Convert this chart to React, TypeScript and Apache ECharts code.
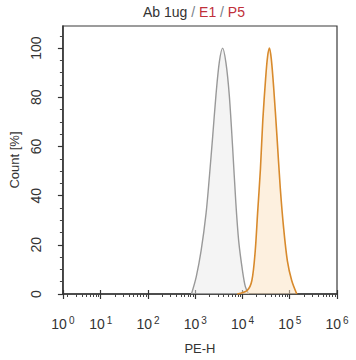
import React, { useEffect, useRef } from "react";
import * as echarts from "echarts";

// PE-H intensity (linear units) and Count [%] for each histogram
const controlIntensity = [832, 1050, 1330, 1700, 2000, 2340, 2750, 3240, 3800, 4470, 5250, 6170, 7240, 8320, 10000, 11500, 13500];
const controlCount = [0, 7, 17.5, 33, 48, 64, 81, 94.4, 100, 94, 81, 60, 37, 21.5, 9.5, 3, 0];

const sampleIntensity = [7760, 12600, 15800, 18600, 20900, 24000, 26900, 30900, 33900, 37200, 40700, 45700, 53700, 63100, 74100, 89100, 110000, 141000];
const sampleCount = [0, 1.5, 5.5, 17.5, 33, 51, 70.6, 87.7, 96.4, 100, 95.6, 84, 64, 43, 27, 13.5, 5.5, 0];

// axis ticks (log10 exponents); first decade label sits at the clipped axis start
const xMinLog = 0.2;
const xMaxLog = 6;
const xMajorTicks = [0.2, 1, 2, 3, 4, 5, 6];
const xMajorLabels = ["0", "1", "2", "3", "4", "5", "6"];
const yMajorTicks = [0, 20, 40, 60, 80, 100];
const yMinorTicks = [5, 10, 15, 25, 30, 35, 45, 50, 55, 65, 70, 75, 85, 90, 95, 105];
const yMax = 109;

const FONT = "'Liberation Sans', Arial, sans-serif";

export default function App() {
  const ref = useRef<HTMLDivElement>(null);
  useEffect(() => {
    if (!ref.current) return;
    const chart = echarts.init(ref.current, undefined, { renderer: "svg" });

    const xMinor: number[] = [];
    for (let d = 0; d < 6; d++) {
      for (let k = 2; k <= 9; k++) {
        const v = Math.log10(k * Math.pow(10, d));
        if (v > xMinLog) xMinor.push(v);
      }
    }

    const toData = (xs: number[], ys: number[]) => xs.map((x, i) => [Math.log10(x), ys[i]]);

    const baseX = {
      type: "value",
      min: xMinLog,
      max: xMaxLog,
      position: "bottom",
      splitLine: { show: false },
    };
    const baseY = {
      type: "value",
      min: 0,
      max: yMax,
      position: "left",
      splitLine: { show: false },
    };

    chart.setOption({
      animation: false,
      backgroundColor: "#ffffff",
      textStyle: { fontFamily: FONT },
      grid: {
        left: 59,
        right: 19,
        top: 26,
        bottom: 59,
        show: true,
        borderColor: "#3a3a3a",
        borderWidth: 1.2,
        backgroundColor: "transparent",
      },
      graphic: [
        {
          type: "text",
          x: 194,
          y: 12,
          style: {
            text: "{a|Ab 1ug}{s| / }{r|E1}{s| / }{r|P5}",
            align: "center",
            verticalAlign: "middle",
            font: `14px ${FONT}`,
            rich: {
              a: { fill: "#333333", fontSize: 14, fontFamily: FONT },
              s: { fill: "#7a7f8a", fontSize: 14, fontFamily: FONT },
              r: { fill: "#c0303a", fontSize: 14, fontFamily: FONT },
            },
          },
        },
      ],
      xAxis: [
        {
          ...baseX,
          name: "PE-H",
          nameLocation: "middle",
          nameGap: 48,
          nameTextStyle: { color: "#333", fontSize: 13, fontFamily: FONT },
          axisLine: { show: true, lineStyle: { color: "#333", width: 1.5 } },
          axisTick: { show: true, length: 5, lineStyle: { color: "#333", width: 1.2 }, customValues: xMajorTicks },
          axisLabel: {
            show: true,
            margin: 21,
            customValues: xMajorTicks,
            color: "#333",
            fontSize: 14,
            fontFamily: FONT,
            formatter: (v: number) => {
              const idx = xMajorTicks.findIndex((t) => Math.abs(t - v) < 1e-6);
              return idx >= 0 ? `10{sup|${xMajorLabels[idx]}}` : "";
            },
            rich: {
              sup: { fontSize: 10, verticalAlign: "bottom", padding: [0, 0, 7, 2], color: "#333", fontFamily: FONT },
            },
          },
        },
        {
          ...baseX,
          axisLine: { show: false },
          axisTick: { show: true, inside: true, length: 4, lineStyle: { color: "#333", width: 1.2 }, customValues: xMajorTicks },
          axisLabel: { show: false },
        },
        {
          ...baseX,
          axisLine: { show: false },
          axisTick: { show: true, length: 3, lineStyle: { color: "#444", width: 1 }, customValues: xMinor },
          axisLabel: { show: false },
        },
      ],
      yAxis: [
        {
          ...baseY,
          name: "Count [%]",
          nameLocation: "middle",
          nameGap: 40,
          nameRotate: 90,
          nameTextStyle: { color: "#333", fontSize: 13, fontFamily: FONT },
          axisLine: { show: true, lineStyle: { color: "#333", width: 1.5 } },
          axisTick: { show: true, length: 5, lineStyle: { color: "#333", width: 1.2 }, customValues: yMajorTicks },
          axisLabel: {
            show: true,
            rotate: 90,
            margin: 20,
            customValues: yMajorTicks,
            color: "#333",
            fontSize: 14,
            fontFamily: FONT,
          },
        },
        {
          ...baseY,
          axisLine: { show: false },
          axisTick: { show: true, length: 3, lineStyle: { color: "#444", width: 1 }, customValues: yMinorTicks },
          axisLabel: { show: false },
        },
      ],
      series: [
        {
          type: "line",
          name: "control",
          xAxisIndex: 0,
          yAxisIndex: 0,
          data: toData(controlIntensity, controlCount),
          smooth: 0.3,
          showSymbol: false,
          symbol: "none",
          lineStyle: { color: "#999999", width: 1.4 },
          areaStyle: { color: "rgba(232,232,232,0.7)" },
          z: 2,
        },
        {
          type: "line",
          name: "sample",
          xAxisIndex: 0,
          yAxisIndex: 0,
          data: toData(sampleIntensity, sampleCount),
          smooth: 0.3,
          showSymbol: false,
          symbol: "none",
          lineStyle: { color: "#d88a2c", width: 1.6 },
          areaStyle: { color: "rgba(252,226,194,0.75)" },
          z: 3,
        },
      ],
    });
    return () => chart.dispose();
  }, []);

  return (
    <div
      ref={ref}
      style={{ position: "fixed", left: 0, top: 0, width: 356, height: 360, background: "#fff" }}
    />
  );
}
